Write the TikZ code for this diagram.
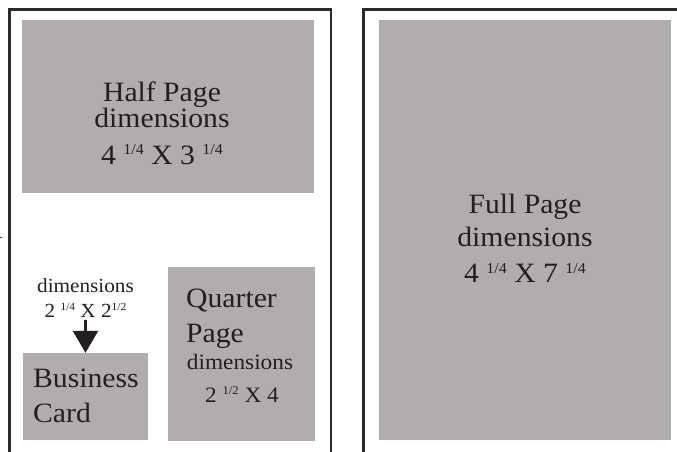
\documentclass[tikz,border=0pt]{standalone}
\usepackage{fontspec}
\setmainfont[FakeStretch=1.06]{Liberation Serif}
\usetikzlibrary{arrows.meta}
\definecolor{boxgray}{RGB}{175,173,174}
\definecolor{ink}{RGB}{35,31,32}
\definecolor{framec}{RGB}{45,42,43}
\newcommand\myfr[1]{\raisebox{0.33em}{\scalebox{0.54}{#1}}}
\newcommand\fsz[1]{\fontsize{#1}{#1}\selectfont}
\begin{document}
\begin{tikzpicture}[x=1pt,y=-1pt,
  graybox/.style={fill=boxgray,draw=none,inner sep=0pt},
  frame/.style={draw=framec,line width=2.6pt,line join=miter},
  lbl/.style={text=ink,inner sep=0pt,anchor=base},
  lblL/.style={text=ink,inner sep=0pt,anchor=base west},
  big/.style={font=\fsz{28}},
  mid/.style={font=\fsz{22}},
  small/.style={font=\fsz{20}}]
\useasboundingbox (0,0) rectangle (677,451);
% frames
\draw[frame] (9.5,452) -- (9.5,9.5) -- (331,9.5) -- (331,452);
\draw[frame] (363.5,452) -- (363.5,9.5) -- (678,9.5);
\draw[framec,line width=1pt] (0,237) -- (2,237);
% boxes
\node[graybox,minimum width=292pt,minimum height=173pt] (half) at (168,106.5) {};
\node[graybox,minimum width=292pt,minimum height=420pt] (full) at (525,230) {};
\node[graybox,minimum width=125pt,minimum height=87pt] (bc) at (85.5,396.5) {};
\node[graybox,minimum width=147pt,minimum height=174pt] (quarter) at (241.5,354) {};
% half page text
\node[lbl,big] (h1) at (162,101.5) {Half Page};
\node[lbl,big] (h2) at (162,127.5) {dimensions};
\node[lbl,big] (h3) at (162,164) {4 \myfr{1/4} X 3 \myfr{1/4}};
% full page text
\node[lbl,big] (f1) at (525,213) {Full Page};
\node[lbl,big] (f2) at (525,246.5) {dimensions};
\node[lbl,big] (f3) at (525,282.5) {4 \myfr{1/4} X 7 \myfr{1/4}};
% quarter page text
\node[lblL,big] (q1) at (186,307) {Quarter};
\node[lblL,big] (q2) at (186,342) {Page};
\node[lbl,mid] (q3) at (240,369) {dimensions};
\node[lbl,mid] (q4) at (242,402) {2 \myfr{1/2} X 4};
% business card text
\node[lblL,big] (b1) at (33,387) {Business};
\node[lblL,big] (b2) at (33,422) {Card};
\node[lbl,small] (bd1) at (85.5,292) {dimensions};
\node[lbl,small] (bd2) at (85.5,317) {2 \myfr{1/4} X 2\myfr{1/2}};
% arrow
\draw[draw=ink,line width=2.5pt,-{Triangle[width=25pt,length=22pt]}]
  (bd2.south) ++(0,3) coordinate (as) (as) -- (as |- bc.north);
\end{tikzpicture}
\end{document}
